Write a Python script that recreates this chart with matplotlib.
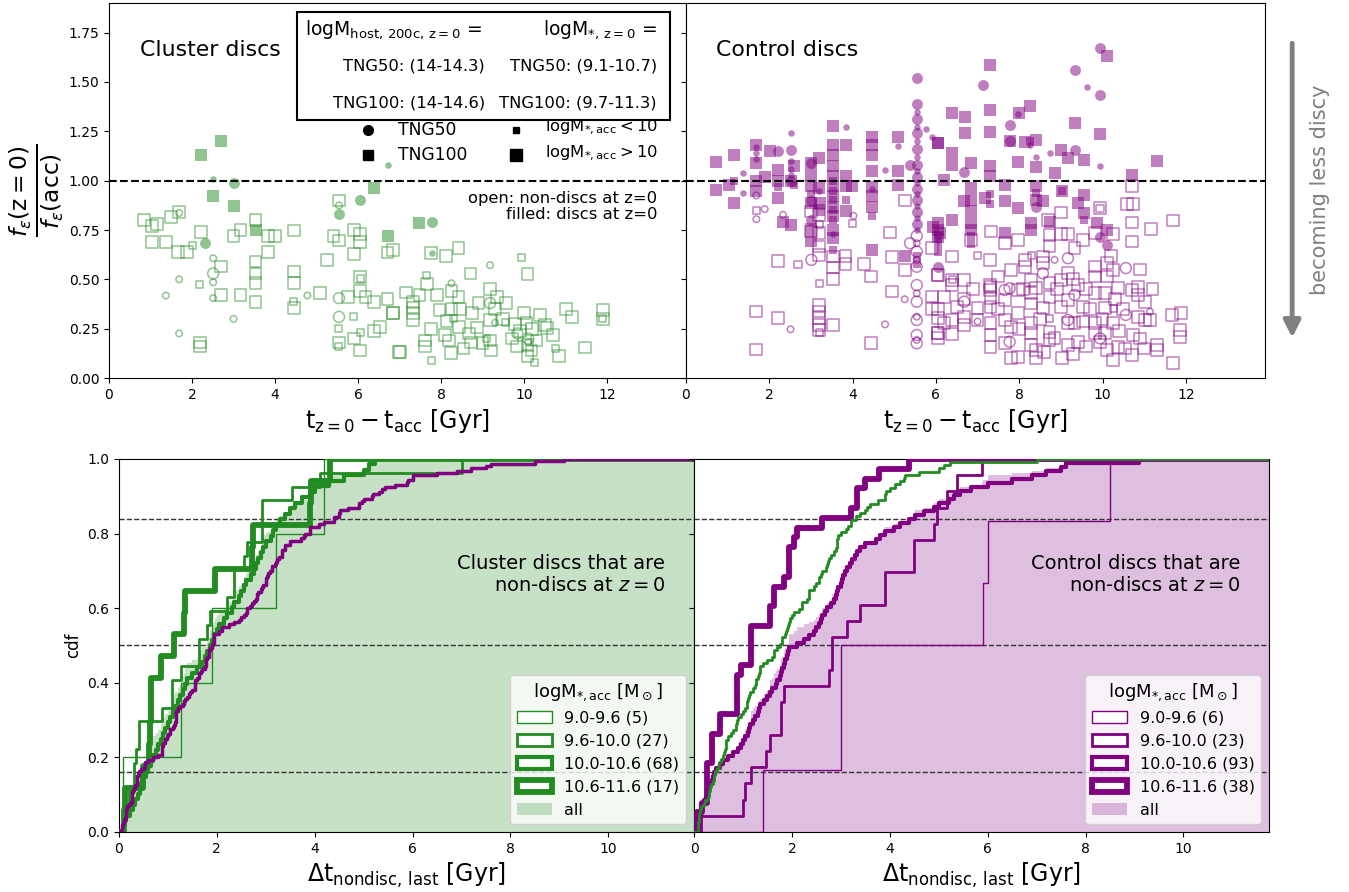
import numpy as np
import matplotlib
matplotlib.use("Agg")
import matplotlib.pyplot as plt
from matplotlib.patches import Patch, Rectangle

# ---------------- data: top panels (x = t_z0 - t_acc [Gyr], y = f_eps ratio) ----------------
cl_filled_sq_big = [(2.21,1.13),(2.71,1.2),(2.51,0.92),(3.0,0.873),(3.53,0.751),(6.39,0.963),(6.71,0.721),(7.48,0.785)]
cl_filled_ci_big = [(3.0,0.99),(2.32,0.683),(5.55,0.83),(6.05,0.903),(7.77,0.793)]
cl_filled_ci_small = [(2.51,1.01),(6.71,1.078),(7.77,0.633)]
cl_open_sq_big = [(0.84,0.80),(1.03,0.77),(1.16,0.78),(1.49,0.815),(1.69,0.84),(1.03,0.69),(1.37,0.69),(1.67,0.64),(1.87,0.64),
    (2.21,0.74),(3.0,0.72),(3.17,0.75),(3.53,0.80),(3.83,0.72),(3.99,0.72),(4.46,0.747),(3.83,0.64),(3.53,0.59),(3.53,0.53),
    (3.53,0.48),(2.70,0.565),(2.70,0.42),(3.17,0.42),(3.53,0.387),(4.46,0.54),(4.46,0.48),(4.46,0.354),(2.19,0.18),(2.19,0.16),
    (5.25,0.60),(5.41,0.72),(5.54,0.697),(5.54,0.90),(5.90,0.75),(6.05,0.73),(6.05,0.69),(5.90,0.63),(6.71,0.636),(6.84,0.65),
    (6.05,0.51),(6.05,0.44),(5.76,0.41),(6.18,0.412),(6.39,0.385),(6.71,0.40),(6.84,0.328),(5.90,0.20),(6.05,0.14),(6.39,0.24),
    (6.52,0.26),(5.54,0.18),(6.99,0.13),(5.08,0.43),(7.75,0.633),(8.12,0.617),(8.42,0.66),(8.71,0.53),(10.08,0.527),(7.67,0.477),
    (7.15,0.433),(7.48,0.42),(8.25,0.44),(9.18,0.452),(9.34,0.41),(9.56,0.38),(7.32,0.386),(7.32,0.357),(7.32,0.33),(7.32,0.294),
    (6.85,0.33),(7.96,0.345),(8.25,0.348),(8.42,0.412),(8.46,0.35),(8.74,0.33),(8.13,0.29),(8.44,0.26),(8.87,0.256),(9.18,0.294),
    (9.79,0.274),(10.06,0.28),(10.38,0.32),(10.55,0.252),(11.01,0.349),(11.15,0.31),(11.9,0.345),(11.9,0.30),(7.75,0.25),
    (7.61,0.19),(7.61,0.16),(8.2,0.19),(8.24,0.125),(8.54,0.15),(8.73,0.18),(9.0,0.176),(9.18,0.19),(8.68,0.226),(9.21,0.14),
    (9.82,0.16),(10.08,0.168),(10.18,0.14),(10.3,0.19),(10.08,0.11),(10.85,0.11),(11.47,0.155),(7.01,0.13),(10.7,0.22),
    (9.5,0.3),(9.9,0.24),(10.2,0.25),(10.5,0.27),(9.3,0.35),(8.9,0.38),(10.0,0.33),(9.7,0.2),(8.1,0.22),(7.9,0.42)]
cl_open_sq_small = [(2.01,0.67),(2.19,0.476),(4.44,0.387),(5.90,0.31),(6.05,0.23),(5.54,0.25),(5.54,0.16),(6.05,0.505),
    (7.66,0.52),(9.94,0.61),(7.77,0.09),(10.24,0.08),(9.55,0.28),(10.75,0.15),(11.9,0.3),(9.1,0.2),(8.3,0.3)]
cl_open_ci_small = [(1.69,0.836),(2.51,0.607),(2.51,0.485),(2.51,0.405),(1.69,0.50),(1.37,0.418),(3.0,0.30),(1.69,0.226),
    (4.78,0.418),(5.54,0.875),(9.18,0.572),(8.25,0.48),(9.3,0.28),(10.1,0.18)]
cl_open_ci_big = [(2.51,0.53),(5.54,0.405),(5.54,0.31),(9.18,0.38),(9.84,0.226),(10.1,0.2)]

ct_filled_sq_big = [(0.71,1.095),(1.16,1.13),(1.69,1.18),(1.69,1.09),(2.01,1.15),(2.21,1.055),(2.59,1.075),(0.71,0.955),
    (1.16,0.886),(1.04,0.98),(1.69,0.997),(1.89,1.02),(2.21,0.91),(2.33,0.79),(2.51,0.777),(3.01,1.09),(3.01,0.971),(3.01,0.886),
    (3.01,0.756),(3.01,0.692),(3.2,1.115),(3.2,0.963),(3.53,1.275),(3.53,1.18),(3.53,1.13),(3.53,1.073),(3.53,1.022),(3.53,0.971),
    (3.53,0.92),(3.53,0.869),(3.53,0.819),(3.53,0.751),(3.53,0.709),(3.83,1.18),(3.83,1.022),(3.83,0.971),(3.83,0.844),(3.99,0.971),
    (3.21,0.886),(4.46,1.22),(4.46,1.18),(4.46,1.13),(4.46,0.92),(4.46,0.869),(4.46,0.65),(5.08,1.22),(5.08,0.979),(5.26,0.619),
    (6.05,1.19),(5.94,0.767),(6.1,0.735),(7.31,1.584),(6.39,1.343),(6.71,1.323),(7.31,1.36),(7.99,1.343),(8.27,1.377),(7.31,1.245),
    (6.71,1.24),(6.04,1.19),(7.77,1.2),(8.13,1.195),(8.41,1.205),(9.33,1.293),(9.94,1.237),(10.1,1.63),(9.01,1.154),(9.17,1.115),
    (9.56,1.106),(6.39,1.138),(6.39,1.081),(6.84,1.09),(7.31,1.076),(7.31,1.022),(7.97,1.093),(8.41,1.069),(8.85,1.039),(11.3,1.098),
    (10.7,1.03),(6.2,1.005),(6.84,0.962),(6.84,0.904),(6.84,0.844),(6.84,0.785),(6.84,0.75),(7.65,0.98),(7.65,0.895),(7.97,0.861),
    (8.41,0.971),(8.41,0.904),(8.57,0.895),(9.03,0.946),(9.56,0.929),(9.56,0.836),(9.86,0.785),(10.1,0.75),(8.73,0.793),(8.29,0.785),
    (8.29,0.75),(7.65,0.737),(6.04,0.717),(6.04,0.75),(6.04,0.785),(6.39,0.802),(7.17,0.912),(6.68,0.895),(9.41,0.887),
    (1.69,0.95),(2.21,1.0),(2.51,1.0),(3.01,1.03),(3.2,0.85),(4.46,0.97),(5.08,1.05),(4.46,1.05)]
ct_filled_sq_small = [(3.53,1.0),(3.53,0.95),(3.53,0.9),(3.53,0.85),(3.53,0.8),(3.53,0.65),(6.05,0.72),(6.05,0.68),(6.05,0.64),
    (6.84,0.72),(6.84,0.68),(5.54,0.62),(5.54,0.58),(2.59,0.98),(3.01,0.93),(9.03,0.95),(9.56,0.8),(8.41,0.94),(7.31,0.93),
    (1.16,1.0),(2.21,0.97),(3.83,0.9),(4.46,0.82),(7.31,0.88),(8.27,1.2)]
ct_filled_ci_big = [(2.51,1.157),(2.21,1.15),(3.01,1.09),(3.01,0.895),(5.38,1.08),(6.05,0.564),(9.94,1.673),(9.33,1.563),
    (7.14,1.487),(9.94,1.436),(7.77,1.284),(7.77,1.2),(9.33,1.154),(6.68,1.042),(9.94,0.717),(10.1,0.675),(8.41,0.869),
    (5.54,1.52),(5.54,1.39),(5.54,1.31),(5.54,1.24),(5.54,1.16),(5.54,1.08),(5.54,1.02),(5.54,0.96),(5.54,0.9),(5.54,0.84),
    (5.54,0.78),(2.51,1.0),(3.01,0.8)]
ct_filled_ci_small = [(2.51,1.24),(3.84,1.27),(4.78,1.056),(5.08,1.175),(5.76,1.263),(5.9,1.22),(1.37,0.94),(1.69,1.17),
    (1.69,1.14),(1.69,1.11),(2.51,1.1),(2.51,1.06),(2.51,1.03),(1.38,1.04),(9.63,1.475),(8.27,1.182),(8.41,1.118),(8.73,1.14),
    (9.94,1.073),(7.97,1.34),(5.54,1.35),(5.54,1.27),(5.54,1.2),(5.54,1.12),(5.54,1.05),(5.54,0.99),(5.54,0.93),(5.54,0.87),
    (5.54,0.81),(5.54,0.75),(3.2,0.95),(3.53,0.73),(6.05,0.7),(4.46,0.96)]
ct_open_sq_big = [(5.25,0.90),(4.9,0.737),(4.94,0.612),(5.26,0.548),(4.28,0.577),(4.44,0.514),(3.83,0.577),(3.53,0.616),
    (3.2,0.734),(3.2,0.666),(3.2,0.624),(3.01,0.844),(3.01,0.742),(2.21,0.594),(3.2,0.827),(5.9,0.658),(5.9,0.413),(6.05,0.523),
    (4.94,0.438),(1.69,0.337),(2.21,0.303),(1.69,0.145),(3.2,0.371),(3.2,0.337),(3.2,0.303),(3.2,0.269),(3.2,0.243),(3.53,0.269),
    (4.44,0.176),(6.05,0.303),(6.05,0.227),(6.05,0.201),(10.7,0.971),(10.58,0.883),(10.74,0.883),(10.7,0.788),(10.7,0.692),
    (11.7,0.798),(11.16,0.754),(9.94,0.861),(9.01,0.839),(8.69,0.801),(9.17,0.731),(9.53,0.7),(9.82,0.734),(10.26,0.731),
    (9.01,0.731),(8.73,0.724),(8.73,0.670),(9.33,0.658),(8.57,0.616),(8.57,0.582),(8.13,0.599),(8.13,0.561),(7.81,0.548),
    (7.49,0.514),(7.29,0.599),(7.29,0.472),(7.29,0.447),(6.84,0.7),(7.33,0.742),(7.65,0.683),(7.97,0.7),(6.04,0.522),(6.39,0.616),
    (6.39,0.497),(6.39,0.472),(6.68,0.497),(6.2,0.412),(6.68,0.399),(7.0,0.353),(7.31,0.463),(7.31,0.404),(7.31,0.361),(7.65,0.395),
    (7.97,0.446),(8.29,0.497),(8.29,0.429),(8.41,0.455),(8.73,0.48),(9.01,0.497),(9.17,0.531),(9.41,0.472),(9.82,0.565),(9.82,0.514),
    (10.1,0.582),(10.1,0.514),(10.26,0.548),(10.06,0.429),(10.38,0.455),(10.7,0.446),(10.86,0.463),(10.86,0.421),(11.02,0.387),
    (9.82,0.429),(9.53,0.361),(9.17,0.395),(8.73,0.412),(8.57,0.353),(8.29,0.378),(7.97,0.328),(7.65,0.294),(7.31,0.277),(7.0,0.294),
    (6.68,0.269),(6.39,0.294),(6.2,0.277),(6.04,0.227),(6.39,0.223),(6.68,0.311),(7.31,0.218),(7.65,0.176),(7.81,0.1),(7.97,0.108),
    (8.29,0.277),(8.29,0.227),(8.29,0.167),(8.41,0.142),(8.41,0.1),(8.73,0.235),(8.73,0.193),(8.85,0.201),(9.03,0.1),(9.17,0.167),
    (9.41,0.184),(9.53,0.286),(9.82,0.277),(9.82,0.227),(9.94,0.184),(10.1,0.142),(10.26,0.091),(10.06,0.227),(10.26,0.277),
    (10.38,0.159),(10.54,0.15),(10.7,0.117),(10.74,0.218),(10.86,0.311),(11.14,0.294),(11.3,0.167),(11.3,0.142),(11.66,0.32),
    (11.89,0.328),(11.86,0.243),(11.86,0.209),(11.7,0.078),(11.02,0.294),(10.06,0.353),(9.33,0.277),(9.17,0.277),(7.31,0.159),
    (5.9,0.35),(6.05,0.35),(3.53,0.56),(3.83,0.62),(3.53,0.5),(8.0,0.25),(8.5,0.3),(8.9,0.45),(9.3,0.5),(9.6,0.45),(9.0,0.36),
    (9.7,0.35),(10.3,0.4),(10.5,0.35),(8.6,0.13),(9.3,0.12),(9.6,0.16),(10.0,0.3),(10.4,0.24),(10.9,0.2),(11.0,0.15),(7.5,0.35),
    (7.8,0.26),(8.1,0.45),(6.9,0.45),(6.5,0.36),(10.9,0.55),(10.2,0.62),(11.2,0.45)]
ct_open_sq_small = [(1.69,0.847),(2.69,0.573),(3.2,0.477),(3.2,0.777),(3.99,0.785),(3.2,0.23),(9.94,0.86),(8.3,0.62),
    (7.0,0.62),(10.26,0.35),(6.39,0.5),(8.73,0.3)]
ct_open_ci_big = [(3.01,0.599),(5.38,0.683),(5.54,0.72),(5.54,0.641),(5.54,0.564),(5.54,0.471),(5.54,0.387),(5.54,0.294),
    (5.54,0.218),(5.54,0.176),(10.56,0.557),(10.56,0.32),(9.17,0.607),(9.17,0.294),(7.77,0.455),(7.77,0.184),(8.57,0.531),
    (9.33,0.421),(9.94,0.201),(6.68,0.387),(7.65,0.446)]
ct_open_ci_small = [(1.69,0.925),(1.89,0.856),(1.69,0.805),(2.33,0.827),(2.51,0.247),(4.02,0.822),(4.78,0.272),(5.25,0.399),
    (5.54,0.683),(5.54,0.598),(5.54,0.429),(5.54,0.311),(5.54,0.193),(8.85,0.599),(11.14,0.336),(7.0,0.286)]

# ---------------- data: bottom panels (Delta t_nondisc,last [Gyr]) per logM*,acc bin ----------------
bin_labels = ["9.0-9.6", "9.6-10.0", "10.0-10.6", "10.6-11.6"]
cl_dt_m1 = [0.08, 1.27, 1.91, 3.2, 4.2]
cl_dt_m2 = [0.08, 0.1, 0.2, 0.3, 0.3, 0.35, 0.4, 0.4, 0.87, 1.09, 1.09, 1.26, 1.63, 1.63, 1.8, 1.87, 2.2, 2.35, 2.35,
            2.55, 2.62, 2.93, 2.93, 2.93, 3.54, 4.1, 7.0]
cl_dt_m3 = [0.08, 0.1, 0.15, 0.22, 0.28, 0.32, 0.38, 0.42, 0.46, 0.5, 0.55, 0.6, 0.65, 0.7, 0.75, 0.8, 0.85, 0.9, 0.95, 1.0,
            1.05, 1.1, 1.15, 1.2, 1.25, 1.3, 1.35, 1.4, 1.5, 1.6, 1.7, 1.75, 1.8, 1.85, 1.9, 1.95, 2.0, 2.05, 2.15, 2.2,
            2.3, 2.35, 2.45, 2.5, 2.55, 2.6, 2.7, 2.75, 2.8, 2.85, 2.9, 2.95, 3.0, 3.1, 3.15, 3.2, 3.3, 3.4, 3.5, 3.6,
            3.75, 3.9, 4.0, 4.3, 4.6, 5.0, 5.1, 5.24]
cl_dt_m4 = [0.1, 0.12, 0.5, 0.62, 0.64, 0.65, 0.66, 0.85, 1.12, 1.33, 1.34, 1.97, 2.72, 2.73, 3.91, 3.92, 4.32]
ct_dt_m1 = [1.4, 3.0, 3.0, 5.9, 6.0, 8.5]
ct_dt_m2 = [0.14, 0.99, 1.05, 1.16, 1.46, 1.56, 1.77, 1.77, 1.84, 2.76, 2.82, 2.82, 3.13, 3.4, 3.91, 3.91, 4.49, 4.49,
            4.9, 4.97, 5.17, 5.37, 5.88]
ct_dt_m3 = [0.05, 0.08, 0.1, 0.12, 0.14, 0.14, 0.15, 0.2, 0.25, 0.28, 0.3, 0.33, 0.36, 0.38, 0.4, 0.45, 0.52, 0.6, 0.7, 0.8,
            0.9, 0.95, 1.0, 1.05, 1.1, 1.12, 1.15, 1.2, 1.25, 1.3, 1.33, 1.35, 1.43, 1.5, 1.56, 1.6, 1.67, 1.7, 1.75, 1.77,
            1.8, 1.84, 1.86, 1.9, 1.92, 1.94, 2.1, 2.24, 2.35, 2.45, 2.5, 2.55, 2.6, 2.62, 2.68, 2.72, 2.8, 2.85, 2.9, 2.93,
            2.95, 3.0, 3.03, 3.05, 3.08, 3.13, 3.18, 3.23, 3.28, 3.33, 3.4, 3.5, 3.71, 3.8, 3.91, 4.08, 4.2, 4.4, 4.52,
            4.69, 4.9, 5.0, 5.2, 5.31, 5.44, 5.65, 6.0, 6.5, 6.9, 7.2, 7.5, 7.6, 9.1]
ct_dt_m4 = [0.07, 0.07, 0.17, 0.27, 0.27, 0.27, 0.27, 0.37, 0.37, 0.37, 0.54, 0.54, 0.88, 0.88, 0.88, 0.88, 0.95, 1.16,
            1.16, 1.16, 1.16, 1.56, 1.56, 1.63, 1.63, 1.84, 1.94, 1.94, 1.94, 2.04, 2.11, 2.62, 3.2, 3.33, 3.33, 3.5,
            3.78, 4.39]

GREEN = "forestgreen"
PURPLE = "purple"

fig = plt.figure(figsize=(13.49, 8.92), dpi=100)
ax_tl = fig.add_axes([0.0808, 0.5762, 0.4277, 0.4204])
ax_tr = fig.add_axes([0.5085, 0.5762, 0.4292, 0.4204], sharey=ax_tl)
ax_bl = fig.add_axes([0.0882, 0.0673, 0.4262, 0.4182])
ax_br = fig.add_axes([0.5145, 0.0673, 0.4262, 0.4182], sharey=ax_bl)

S_SQ_BIG, S_SQ_SMALL, S_CI_BIG, S_CI_SMALL = 72, 26, 62, 22


def scat(ax, pts, marker, s, color, filled):
    x, y = np.array(pts).T
    if filled:
        ax.scatter(x, y, marker=marker, s=s, color=color, alpha=0.5, lw=0, zorder=3)
    else:
        ax.scatter(x, y, marker=marker, s=s, facecolors="none", edgecolors=color, alpha=0.5, lw=1.1, zorder=3)


for ax, col, groups in [
    (ax_tl, GREEN, [(cl_open_sq_big, "s", S_SQ_BIG, False), (cl_open_sq_small, "s", S_SQ_SMALL, False),
                    (cl_open_ci_big, "o", S_CI_BIG, False), (cl_open_ci_small, "o", S_CI_SMALL, False),
                    (cl_filled_sq_big, "s", S_SQ_BIG, True), (cl_filled_ci_big, "o", S_CI_BIG, True),
                    (cl_filled_ci_small, "o", S_CI_SMALL, True)]),
    (ax_tr, PURPLE, [(ct_open_sq_big, "s", S_SQ_BIG, False), (ct_open_sq_small, "s", S_SQ_SMALL, False),
                     (ct_open_ci_big, "o", S_CI_BIG, False), (ct_open_ci_small, "o", S_CI_SMALL, False),
                     (ct_filled_sq_big, "s", S_SQ_BIG, True), (ct_filled_sq_small, "s", S_SQ_SMALL, True),
                     (ct_filled_ci_big, "o", S_CI_BIG, True), (ct_filled_ci_small, "o", S_CI_SMALL, True)]),
]:
    for pts, mk, s, filled in groups:
        scat(ax, pts, mk, s, col, filled)
    ax.axhline(1.0, color="k", ls="--", lw=1.5, zorder=4)
    ax.set_xlim(0, 13.9)
    ax.set_xticks(np.arange(0, 13, 2))
    ax.set_xlabel(r"$\mathrm{t_{z=0}-t_{acc}}$ [Gyr]", fontsize=17)
    ax.tick_params(labelsize=10)

ax_tl.set_ylim(0, 1.9)
ax_tl.set_yticks(np.arange(0, 1.76, 0.25))
ax_tl.yaxis.set_major_formatter(matplotlib.ticker.FormatStrFormatter("%.2f"))
ax_tl.set_ylabel(r"$\frac{f_{\epsilon}(\mathrm{z=0})}{f_{\epsilon}(\mathrm{acc})}$", fontsize=24, labelpad=2)
ax_tr.tick_params(labelleft=False)

ax_tl.text(0.054, 0.875, "Cluster discs", transform=ax_tl.transAxes, fontsize=15.8, va="center")
ax_tr.text(0.052, 0.875, "Control discs", transform=ax_tr.transAxes, fontsize=15.8, va="center")
ax_tl.text(0.95, 0.48, "open: non-discs at z=0", transform=ax_tl.transAxes, fontsize=11.8, ha="right", va="center")
ax_tl.text(0.95, 0.435, "filled: discs at z=0", transform=ax_tl.transAxes, fontsize=11.8, ha="right", va="center")

# info box
ax_tl.add_patch(Rectangle((0.326, 0.688), 0.646, 0.288, transform=ax_tl.transAxes, facecolor="white",
                          edgecolor="k", lw=1.5, zorder=6))
ax_tl.text(0.34, 0.928, r"logM$_{\rm host,\,200c,\,z=0}$ =", transform=ax_tl.transAxes, fontsize=13.5,
           va="center", zorder=7)
ax_tl.text(0.752, 0.928, r"logM$_{*,\,\rm z=0}$ =", transform=ax_tl.transAxes, fontsize=13.5, va="center", zorder=7)
for xx, yy, tt in [(0.652, 0.832, "TNG50: (14-14.3)"), (0.95, 0.832, "TNG50: (9.1-10.7)"),
                   (0.652, 0.733, "TNG100: (14-14.6)"), (0.95, 0.733, "TNG100: (9.7-11.3)")]:
    ax_tl.text(xx, yy, tt, transform=ax_tl.transAxes, fontsize=11.8, ha="right", va="center", zorder=7)

# marker key
ax_tl.plot([0.449], [0.661], "o", color="k", ms=7, transform=ax_tl.transAxes, clip_on=False)
ax_tl.plot([0.449], [0.595], "s", color="k", ms=7.5, transform=ax_tl.transAxes, clip_on=False)
ax_tl.plot([0.705], [0.661], "s", color="k", ms=4.5, transform=ax_tl.transAxes, clip_on=False)
ax_tl.plot([0.705], [0.595], "s", color="k", ms=8, transform=ax_tl.transAxes, clip_on=False)
ax_tl.text(0.501, 0.661, "TNG50", transform=ax_tl.transAxes, fontsize=12.3, va="center")
ax_tl.text(0.501, 0.595, "TNG100", transform=ax_tl.transAxes, fontsize=12.3, va="center")
ax_tl.text(0.756, 0.668, r"logM$_{*,\rm acc}<10$", transform=ax_tl.transAxes, fontsize=11.8, va="center")
ax_tl.text(0.756, 0.600, r"logM$_{*,\rm acc}>10$", transform=ax_tl.transAxes, fontsize=11.8, va="center")

# arrow
ax_tr.annotate("", xy=(1.047, 0.10), xytext=(1.047, 0.90), xycoords="axes fraction",
               arrowprops=dict(arrowstyle="-|>", color="gray", lw=3.5, mutation_scale=25), annotation_clip=False)
fig.text(0.9785, 0.787, "becoming less discy", rotation=90, color="gray", fontsize=15, ha="center", va="center")

# ---------------- bottom panels ----------------
XMAX_B = 11.75
LWS = [1.0, 2.0, 3.0, 4.2]


def cdf_xy(vals):
    s = np.sort(np.asarray(vals, float))
    n = len(s)
    xs = np.concatenate([[0.0], s, [XMAX_B + 1]])
    ys = np.concatenate([[0.0], np.arange(1, n + 1) / n, [1.0]])
    return xs, ys


cl_bins = [cl_dt_m1, cl_dt_m2, cl_dt_m3, cl_dt_m4]
ct_bins = [ct_dt_m1, ct_dt_m2, ct_dt_m3, ct_dt_m4]
cl_all = np.concatenate(cl_bins)
ct_all = np.concatenate(ct_bins)

for ax, col, bins, other_all, other_col, other_lw, title in [
    (ax_bl, GREEN, cl_bins, ct_all, PURPLE, 2.5, "Cluster discs that are\nnon-discs at $z=0$"),
    (ax_br, PURPLE, ct_bins, cl_all, GREEN, 2.0, "Control discs that are\nnon-discs at $z=0$"),
]:
    own_all = np.concatenate(bins)
    xs, ys = cdf_xy(own_all)
    ax.fill_between(xs, ys, step="post", color=col, alpha=0.25, lw=0, zorder=1)
    handles = []
    for vals, lw, lab in zip(bins, LWS, bin_labels):
        bx, by = cdf_xy(vals)
        ax.step(bx, by, where="post", color=col, lw=lw, zorder=3)
        handles.append(Patch(facecolor="white", edgecolor=col, lw=lw, label=f"{lab} ({len(vals)})"))
    handles.append(Patch(facecolor=col, alpha=0.25, lw=0, label="all"))
    ox, oy = cdf_xy(other_all)
    ax.step(ox, oy, where="post", color=other_col, lw=other_lw, zorder=3)
    for yl in (0.16, 0.5, 0.84):
        ax.axhline(yl, color="0.2", ls="--", lw=1.0, zorder=2)
    ax.set_xlim(0, XMAX_B)
    ax.set_ylim(0, 1)
    ax.set_xticks(np.arange(0, 11, 2))
    ax.tick_params(labelsize=10)
    ax.set_xlabel(r"$\Delta\mathrm{t_{nondisc,\,last}}$ [Gyr]", fontsize=17)
    ax.text(0.95, 0.69, title, transform=ax.transAxes, fontsize=14, ha="right", va="center", zorder=5)
    leg = ax.legend(handles=handles, loc="lower right", fontsize=11.5,
                    title=r"logM$_{*,\rm acc}$ [M$_\odot$]", title_fontsize=13, handlelength=2.2)
    leg.set_zorder(6)

ax_bl.set_ylabel("cdf", fontsize=12)
ax_br.tick_params(labelleft=False)

fig.savefig("out.png", dpi=100)
